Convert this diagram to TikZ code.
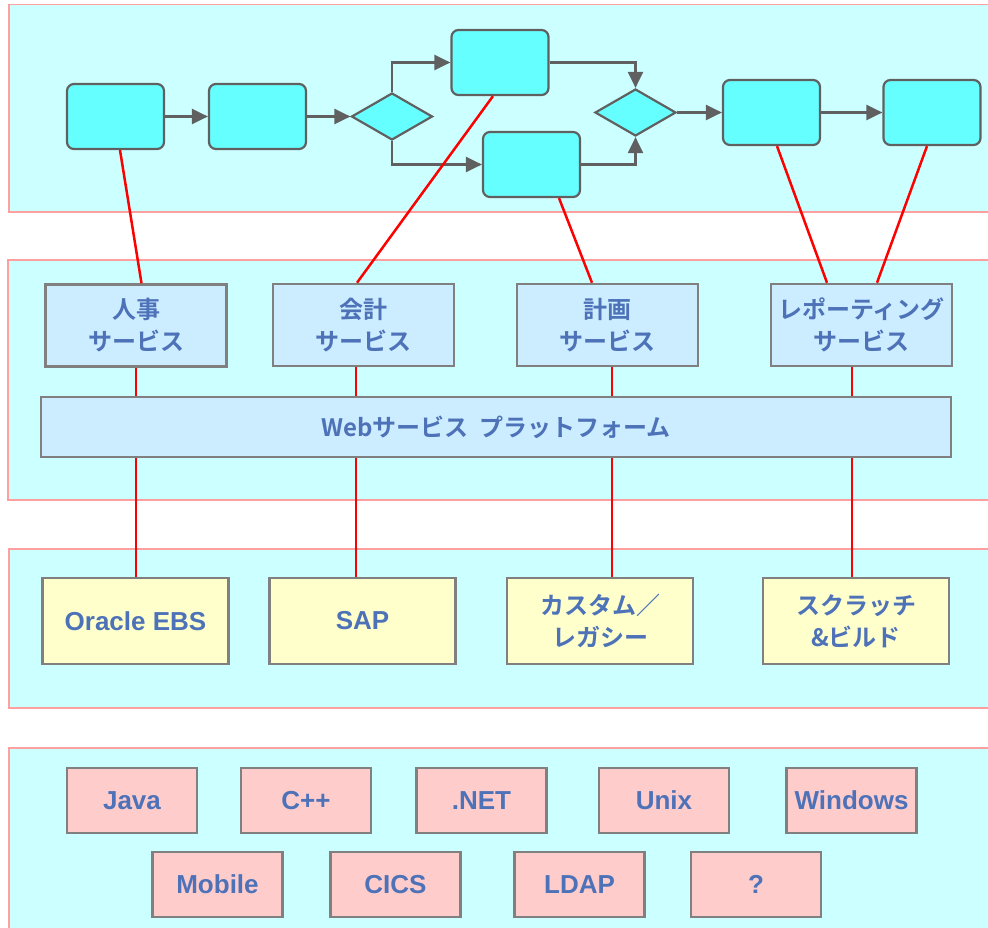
\documentclass[tikz,border=0pt]{standalone}
\usepackage{fontspec}
\setmainfont{Liberation Sans}
\newfontfamily\jpfont{Noto Sans CJK JP Bold}
\usetikzlibrary{shapes.geometric,arrows.meta}
\definecolor{bandfill}{RGB}{204,255,255}
\definecolor{bandline}{RGB}{255,160,160}
\definecolor{flowfill}{RGB}{102,255,255}
\definecolor{flowline}{RGB}{96,96,96}
\definecolor{boxline}{RGB}{128,128,128}
\definecolor{svcfill}{RGB}{204,236,255}
\definecolor{legfill}{RGB}{255,255,204}
\definecolor{techfill}{RGB}{255,204,204}
\definecolor{labelblue}{RGB}{77,114,184}
\begin{document}
\begin{tikzpicture}[x=1pt,y=-1pt,
  band/.style={fill=bandfill,draw=bandline,line width=1.5pt},
  flow/.style={rectangle,rounded corners=7pt,fill=flowfill,draw=flowline,line width=2.2pt,
               minimum width=97pt,minimum height=65pt,inner sep=0pt},
  dec/.style={diamond,fill=flowfill,draw=flowline,line width=2.2pt,
              minimum width=81pt,minimum height=47pt,inner sep=0pt},
  arr/.style={draw=flowline,line width=2.2pt,-{Triangle[length=16pt,width=15pt]}},
  link/.style={draw=red,line width=2.5pt},
  box/.style={rectangle,draw=boxline,line width=2.5pt,inner sep=0pt,text=labelblue,align=center},
  jp/.style={font=\jpfont\fontsize{24}{32}\selectfont},
  lat/.style={font=\fontsize{26}{32}\selectfont\bfseries},
  svc/.style={box,jp,fill=svcfill,minimum width=181pt,minimum height=82pt},
  legacy/.style={box,fill=legfill,minimum width=186pt,minimum height=86pt},
  tech/.style={box,lat,fill=techfill,minimum width=130pt,minimum height=65pt}]
\clip (0,0) rectangle (988,928);
\path[band] (9,4.5) rectangle (1000,212)
            (8,260) rectangle (1000,500)
            (9,549) rectangle (1000,708)
            (9,748) rectangle (1000,940);

\node[flow] (a) at (115.5,116.5) {};
\node[flow] (b) at (257.5,116.5) {};
\node[dec] (d1) at (392,116.5) {};
\node[flow] (c) at (500,62.5) {};
\node[flow] (d) at (531.5,164.5) {};
\node[dec] (d2) at (635.5,112.5) {};
\node[flow] (e) at (771.5,112.5) {};
\node[flow] (f) at (932,112.5) {};
\draw[arr] (a) -- (b);
\draw[arr] (b) -- (d1);
\draw[arr] (d1.north) |- (c.west);
\draw[arr] (d1.south) |- (d.west);
\draw[arr] (c.east) -| (d2.north);
\draw[arr] (d.east) -| (d2.south);
\draw[arr] (d2) -- (e);
\draw[arr] (e) -- (f);

\node[svc] (jinji) at (136,325.5) {人事\\サービス};
\node[svc] (kaikei) at (363.5,325) {会計\\サービス};
\node[svc] (keikaku) at (607.5,325) {計画\\サービス};
\node[svc] (report) at (861.5,325) {レポーティング\\サービス};
\node[box,jp,fill=svcfill,minimum width=910pt,minimum height=60pt] (web) at (496,427)
     {Webサービス\ \ プラットフォーム};

\node[legacy,lat] (oracle) at (135.5,621) {Oracle EBS};
\node[legacy,lat] (sap) at (362.5,621) {SAP};
\node[legacy,jp] (custom) at (600,621) {カスタム／\\レガシー};
\node[legacy,jp] (scratch) at (856,621) {スクラッチ\\\&ビルド};

\foreach \n/\x/\t in {java/132/Java, cpp/306/C++, dotnet/481.5/.NET, unix/664/Unix, win/851.5/Windows}
  \node[tech] (\n) at (\x,800.5) {\t};
\foreach \n/\x/\t in {mobile/217.5/Mobile, cics/395.5/CICS, ldap/579.5/LDAP, other/756/?}
  \node[tech] (\n) at (\x,884.5) {\t};

\draw[link] ([xshift=4.5pt]a.south) -- ([xshift=5.5pt]jinji.north);
\draw[link] ([xshift=-7pt]c.south) -- ([xshift=-6.5pt]kaikei.north);
\draw[link] ([xshift=27.5pt]d.south) -- ([xshift=-15.5pt]keikaku.north);
\draw[link] ([xshift=5.5pt]e.south) -- ([xshift=-34.5pt]report.north);
\draw[link] ([xshift=-5pt]f.south) -- ([xshift=15.5pt]report.north);
\foreach \s/\l/\dx in {jinji/oracle/0, kaikei/sap/-7.5, keikaku/custom/4.5, report/scratch/-9.5} {
  \draw[link] ([xshift=\dx pt]\s.south) -- ([xshift=\dx pt]\s.south |- web.north);
  \draw[link] ([xshift=\dx pt]\s.south |- web.south) -- ([xshift=\dx pt]\s.south |- \l.north);
}
\end{tikzpicture}
\end{document}
